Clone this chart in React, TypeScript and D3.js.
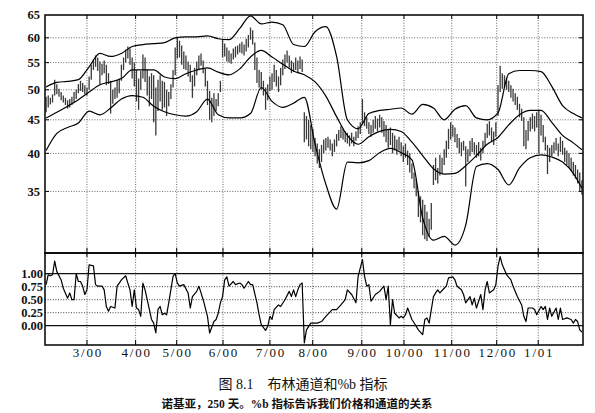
import React from 'react';
import * as d3 from 'd3';

// ---------- data ----------
const priceHigh = [
  48.8, 49.0, 48.6, 49.2, 51.8, 51.0, 50.2, 49.6, 49.0, 48.6,
  48.2, 48.4, 48.8, 49.6, 50.0, 51.0, 51.6, 51.2, 50.8, 50.4,
  52.4, 54.6, 55.6, 56.4, 56.0, 55.2, 54.8, 55.4, 54.6, 53.0,
  51.6, 50.0, 50.4, 51.8, 52.0, 54.6, 56.0, 57.6, 58.2, 57.8,
  56.0, 55.0, 53.6, 52.0, 53.4, 56.6, 56.0, 53.6, 52.4, 53.0,
  52.6, 50.4, 51.8, 52.6, 51.6, 51.4, 50.0, 49.6, 51.0, 53.6,
  58.0, 60.0, 59.4, 58.4, 57.2, 56.4, 55.2, 54.6, 52.6, 54.0,
  55.2, 56.4, 56.8, 55.4, 53.8, 51.6, 49.8, 48.6, 49.4, 48.4,
  49.4, 51.6, 59.6, 58.8, 58.0, 57.4, 56.8, 57.8, 58.2, 58.4,
  58.8, 59.2, 58.6, 59.8, 60.6, 62.2, 61.6, 59.0, 56.0, 53.6,
  53.2, 51.6, 50.4, 51.0, 52.4, 53.0, 54.6, 53.6, 52.4, 54.0,
  55.6, 56.6, 57.4, 56.4, 55.4, 55.0, 56.0, 55.4, 56.2, 55.6,
  46.2, 45.6, 45.0, 44.2, 43.6, 42.2, 41.4, 40.6, 41.2, 42.0,
  42.2, 42.4, 42.0, 41.4, 42.0, 42.8, 43.4, 44.0, 43.6, 43.2,
  43.0, 42.6, 43.0, 42.4, 43.2, 44.0, 44.6, 48.4, 46.2, 45.4,
  44.6, 44.2, 45.0, 45.6, 45.2, 45.8, 45.4, 44.8, 44.2, 43.4,
  43.8, 43.0, 42.6, 42.0, 42.4, 41.6, 41.0, 41.4, 40.4, 40.0,
  38.6, 37.4, 36.6, 35.0, 34.4, 34.0, 33.4, 32.6, 31.8, 33.6,
  38.4, 39.4, 38.0, 39.8, 39.4, 40.6, 41.8, 43.6, 44.6, 44.2,
  43.8, 42.8, 42.2, 41.6, 41.8, 41.0, 40.6, 41.8, 42.2, 41.6,
  41.2, 41.6, 40.8, 41.8, 43.0, 44.4, 44.8, 43.8, 43.2, 44.6,
  50.8, 54.4, 53.0, 52.6, 52.2, 51.6, 50.8, 50.2, 49.4, 48.8,
  47.6, 46.8, 45.4, 43.4, 44.8, 45.4, 46.0, 45.6, 46.2, 46.4,
  45.8, 44.2, 42.4, 41.2, 40.8, 41.2, 41.6, 42.2, 41.4, 42.4,
  41.8, 40.8, 40.4, 40.0, 39.4, 38.8, 38.4, 37.8, 37.4, 36.4,
];
const priceLow = [
  46.2, 47.0, 47.5, 47.8, 49.0, 49.2, 48.8, 48.2, 47.8, 47.4,
  46.8, 47.0, 47.4, 47.8, 48.4, 49.4, 49.8, 49.6, 49.2, 49.0,
  50.0, 51.8, 53.6, 54.2, 53.4, 51.0, 52.6, 53.0, 50.8, 51.0,
  46.0, 47.6, 48.4, 48.6, 49.4, 51.6, 53.6, 55.0, 55.8, 54.6,
  52.0, 50.6, 48.0, 46.6, 50.0, 52.0, 51.4, 49.0, 47.2, 48.4,
  44.6, 42.6, 46.4, 48.0, 46.6, 47.0, 45.6, 47.2, 48.4, 50.4,
  52.6, 55.8, 56.0, 54.6, 53.8, 53.6, 52.4, 51.4, 48.6, 50.6,
  52.6, 53.8, 54.4, 53.0, 50.6, 47.4, 45.0, 44.6, 45.6, 46.4,
  47.2, 49.6, 56.0, 56.2, 55.2, 55.0, 54.8, 55.6, 56.0, 56.6,
  57.0, 56.8, 56.4, 57.2, 58.0, 59.6, 58.6, 53.6, 51.2, 50.4,
  50.0, 49.0, 46.6, 48.2, 49.8, 50.0, 51.4, 50.6, 49.6, 50.8,
  52.6, 53.8, 55.0, 54.0, 53.0, 53.2, 53.6, 53.0, 53.8, 53.2,
  41.6, 42.0, 41.0, 40.6, 40.2, 39.6, 38.6, 38.0, 38.8, 40.0,
  40.4, 40.8, 40.4, 39.6, 40.2, 41.0, 41.8, 42.2, 42.0, 41.6,
  41.4, 41.0, 41.4, 41.0, 41.8, 42.2, 42.8, 44.2, 44.0, 43.6,
  42.8, 42.4, 43.0, 43.6, 43.2, 43.8, 43.0, 42.4, 41.6, 40.8,
  41.2, 40.0, 40.4, 39.8, 40.4, 39.6, 38.8, 39.4, 38.4, 37.4,
  36.6, 35.4, 34.4, 32.0, 31.4, 30.0, 29.6, 29.4, 29.8, 30.6,
  35.8, 36.4, 36.0, 37.0, 37.2, 38.4, 39.4, 40.6, 42.0, 42.4,
  41.6, 40.8, 40.0, 39.6, 40.4, 35.6, 38.8, 39.6, 40.2, 39.8,
  39.4, 39.6, 39.0, 40.0, 41.0, 42.2, 42.6, 41.6, 41.2, 42.4,
  45.6, 49.6, 50.2, 50.4, 50.0, 49.6, 48.6, 48.0, 47.4, 46.6,
  45.4, 44.8, 41.0, 40.6, 41.8, 43.2, 43.6, 43.2, 43.8, 40.0,
  42.6, 41.6, 40.4, 37.2, 38.8, 39.6, 40.0, 40.4, 39.6, 40.2,
  39.8, 38.8, 38.4, 38.0, 37.6, 37.0, 36.6, 36.0, 35.0, 34.6,
];

// Bollinger bands read every 5 trading days (plus last day)
const bandDay = [
  0, 5, 10, 15, 20, 25, 30, 35, 40, 45, 50, 55, 60, 65, 70, 75, 80, 85, 90, 95,
  100, 105, 110, 115, 120, 125, 130, 135, 140, 145, 150, 155, 160, 165, 170, 175,
  180, 185, 190, 195, 200, 205, 210, 215, 220, 225, 230, 235, 240, 245, 249,
];
const upperBand = [
  50.5, 51.3, 51.5, 51.8, 54.2, 56.8, 56.2, 56.8, 58.2, 58.6, 58.8, 59.0, 60.0, 60.2,
  60.2, 60.4, 59.8, 59.6, 62.0, 64.8, 63.0, 63.4, 62.8, 58.6, 58.2, 61.3, 62.4, 56.2,
  45.0, 43.6, 46.0, 46.5, 46.7, 46.9, 45.9, 47.5, 46.9, 45.0, 46.7, 47.3, 45.3, 45.0,
  46.1, 52.9, 53.5, 53.5, 53.3, 50.6, 47.3, 46.0, 45.3,
];
const middleBand = [
  45.3, 46.2, 47.2, 48.3, 49.6, 50.9, 51.4, 52.0, 53.6, 53.6, 53.6, 52.3, 52.0, 52.9,
  53.6, 54.0, 53.2, 52.7, 53.8, 56.1, 57.4, 56.1, 54.7, 53.4, 52.7, 51.4, 48.9, 45.5,
  42.6, 41.3, 42.4, 43.2, 43.5, 43.2, 41.6, 39.7, 37.9, 37.2, 37.3, 38.3, 39.7, 41.3,
  42.3, 44.2, 45.8, 46.5, 46.5, 44.6, 42.6, 41.5, 40.5,
];
const lowerBand = [
  40.4, 42.9, 43.8, 44.5, 46.4, 45.8, 46.9, 48.4, 49.0, 48.7, 47.2, 46.3, 45.8, 45.6,
  46.3, 48.4, 45.8, 45.3, 45.3, 46.0, 50.4, 48.0, 47.0, 47.7, 48.7, 41.3, 35.9, 32.9,
  38.8, 38.7, 39.0, 40.1, 40.7, 40.1, 39.1, 31.9, 29.5, 29.9, 29.0, 31.1, 38.2, 38.6,
  37.8, 35.8, 38.0, 39.4, 39.8, 39.5, 38.8, 37.3, 35.4,
];

// %b indicator
const pbDay = [
  0, 1, 2, 3, 4, 5, 7, 8, 10, 11, 12, 13, 14, 15, 16, 17, 18, 19, 20, 22,
  23, 24, 26, 27, 28, 29, 30, 32, 33, 34, 35, 37, 38, 39, 40, 41, 42, 43, 44, 45,
  46, 47, 49, 50, 51, 52, 53, 54, 55, 56, 57, 59, 60, 61, 62, 64, 66, 67, 68, 70,
  71, 72, 73, 75, 76, 78, 79, 80, 81, 82, 83, 84, 85, 87, 88, 90, 91, 92, 94, 95,
  96, 98, 99, 100, 102, 103, 104, 105, 106, 108, 109, 111, 113, 114, 115, 116, 117, 118, 119, 120,
  121, 123, 126, 128, 130, 133, 135, 137, 139, 140, 142, 144, 145, 147, 148, 149, 150, 151, 153, 155,
  157, 158, 159, 160, 161, 162, 164, 165, 166, 167, 168, 170, 172, 173, 175, 176, 177, 178, 180, 181,
  182, 183, 185, 186, 187, 189, 190, 191, 193, 194, 195, 197, 198, 199, 200, 202, 203, 204, 205, 206,
  208, 209, 210, 211, 212, 214, 216, 217, 219, 221, 222, 223, 224, 226, 227, 228, 230, 231, 232, 233,
  234, 235, 237, 238, 239, 240, 242, 244, 245, 246, 247, 248, 249,
];
const pbValue = [
  0.79, 0.98, 0.96, 0.98, 1.24, 1.04, 0.88, 0.72, 0.53, 0.63, 0.50, 0.50, 1.00, 0.85, 0.85, 0.76, 0.60, 0.69, 1.17, 1.15,
  0.79, 0.76, 0.76, 0.69, 0.37, 0.28, 0.37, 0.34, 0.76, 0.82, 0.88, 0.96, 0.82, 0.69, 0.37, 0.69, 0.34, 0.31, 0.18, 0.82,
  0.69, 0.50, 0.12, 0.05, -0.14, 0.31, 0.37, 0.21, 0.24, 0.21, 0.44, 0.95, 1.00, 0.82, 0.76, 0.79, 0.63, 0.34, 0.56, 0.66,
  0.76, 0.63, 0.50, 0.18, -0.14, 0.08, 0.12, 0.24, 0.44, 0.56, 0.88, 0.94, 0.76, 0.85, 0.79, 0.82, 0.79, 0.72, 0.85, 0.79,
  0.79, 0.44, 0.21, 0.02, -0.09, -0.01, 0.18, 0.12, 0.31, 0.40, 0.37, 0.50, 0.66, 0.56, 0.69, 0.56, 0.69, 0.79, 0.82, -0.33,
  -0.08, 0.05, 0.05, 0.08, 0.18, 0.31, 0.31, 0.40, 0.50, 0.69, 0.60, 0.44, 0.95, 1.27, 0.95, 0.76, 0.79, 0.47, 0.60, 0.66,
  0.76, 0.50, 0.76, 0.02, 0.50, 0.24, 0.15, 0.18, 0.15, 0.21, 0.34, 0.12, -0.01, -0.08, -0.17, 0.12, 0.15, 0.05, 0.56, 0.63,
  0.69, 0.63, 0.72, 0.76, 0.92, 0.94, 0.88, 0.76, 0.69, 0.60, 0.44, 0.56, 0.40, 0.53, 0.34, 0.60, 0.31, 0.69, 0.85, 0.63,
  0.69, 0.79, 1.14, 1.33, 1.17, 0.98, 0.88, 0.76, 0.56, 0.40, 0.18, 0.08, 0.34, 0.34, 0.31, 0.21, 0.37, 0.31, 0.37, 0.12,
  0.34, 0.18, 0.34, 0.12, 0.34, 0.12, 0.15, 0.12, 0.05, 0.12, 0.08, -0.08, -0.12,
];

const priceTicks = [65, 60, 55, 50, 45, 40, 35];
const pbTicks = [1.0, 0.75, 0.5, 0.25, 0.0];
const monthDay = [19, 41.6, 60.7, 82.2, 104, 123.9, 146.7, 166.3, 188.5, 209.4, 228.7];
const monthLabels = ['3/00', '4/00', '5/00', '6/00', '7/00', '8/00', '9/00', '10/00', '11/00', '12/00', '1/01'];
const captionTitle = '图 8.1    布林通道和%b 指标';
const captionNote = '诺基亚，250 天。%b 指标告诉我们价格和通道的关系';

// ---------- layout ----------
const W = 595;
const H = 413;
const L = 45;
const R = 583;
const T1 = 15;
const B1 = 253;
const B2 = 345;

const serif = "'Liberation Serif', 'Times New Roman', 'DejaVu Serif', serif";
const cjk = "'Liberation Serif', 'Noto Sans CJK SC', serif";

export default function App() {
  const x = d3.scaleLinear().domain([-0.5, 249.5]).range([L, R]);
  const y = d3.scaleLog().domain([28.2, 65]).range([B1, T1]);
  const yb = d3.scaleLinear().domain([-0.371, 1.398]).range([B2, B1]);

  const bandLine = (vals: number[]) =>
    d3
      .line<number>()
      .x((_, i) => x(bandDay[i]))
      .y((v) => y(v))
      .curve(d3.curveMonotoneX)(vals) || '';

  const pbPath =
    d3
      .line<number>()
      .x((_, i) => x(pbDay[i]))
      .y((v) => yb(v))(pbValue) || '';

  return (
    <svg
      width={W}
      height={H}
      viewBox={`0 0 ${W} ${H}`}
      style={{ position: 'absolute', left: 0, top: 0, background: '#fff' }}
    >
      <defs>
        <clipPath id="clipTop">
          <rect x={L} y={T1} width={R - L} height={B1 - T1} />
        </clipPath>
        <clipPath id="clipBot">
          <rect x={L} y={B1} width={R - L} height={B2 - B1} />
        </clipPath>
      </defs>
      <rect x={0} y={0} width={W} height={H} fill="#fff" />

      {/* upper grid */}
      {priceTicks.slice(1).map((t) => (
        <line key={'hg' + t} x1={L} x2={R} y1={y(t)} y2={y(t)} stroke="#444" strokeWidth={0.8} strokeDasharray="1,1.6" />
      ))}
      {monthDay.map((d, i) => (
        <line key={'vg' + i} x1={x(d)} x2={x(d)} y1={T1} y2={B2} stroke="#444" strokeWidth={0.8} strokeDasharray="1,1.6" />
      ))}
      {/* lower grid */}
      {pbTicks.map((t) => (
        <line
          key={'pg' + t}
          x1={L}
          x2={R}
          y1={yb(t)}
          y2={yb(t)}
          stroke="#111"
          strokeWidth={t === 1 || t === 0 ? 1.3 : 0.8}
          strokeDasharray={t === 1 || t === 0 ? undefined : '1,1.6'}
        />
      ))}

      {/* ticks */}
      {priceTicks.slice(1).map((t) => (
        <g key={'pt' + t}>
          <line x1={L} x2={L + 4} y1={y(t)} y2={y(t)} stroke="#000" strokeWidth={1} />
          <line x1={R - 4} x2={R} y1={y(t)} y2={y(t)} stroke="#000" strokeWidth={1} />
        </g>
      ))}
      {monthDay.map((d, i) => (
        <g key={'mt' + i}>
          <line x1={x(d)} x2={x(d)} y1={T1} y2={T1 + 4} stroke="#000" strokeWidth={1} />
          <line x1={x(d)} x2={x(d)} y1={B1 - 5} y2={B1 + 4} stroke="#000" strokeWidth={1} />
          <line x1={x(d)} x2={x(d)} y1={B2 - 5} y2={B2} stroke="#000" strokeWidth={1} />
        </g>
      ))}

      {/* price bars */}
      <g clipPath="url(#clipTop)">
        {priceHigh.map((h, i) => (
          <line key={'b' + i} x1={x(i)} x2={x(i)} y1={y(h)} y2={y(priceLow[i])} stroke="#3a3a3a" strokeWidth={1.3} />
        ))}
        <path d={bandLine(upperBand)} fill="none" stroke="#000" strokeWidth={1.2} />
        <path d={bandLine(middleBand)} fill="none" stroke="#000" strokeWidth={1.2} />
        <path d={bandLine(lowerBand)} fill="none" stroke="#000" strokeWidth={1.2} />
      </g>

      {/* %b */}
      <g clipPath="url(#clipBot)">
        <path d={pbPath} fill="none" stroke="#000" strokeWidth={1.2} strokeLinejoin="round" />
      </g>

      {/* frames */}
      <rect x={L} y={T1} width={R - L} height={B1 - T1} fill="none" stroke="#000" strokeWidth={1.5} />
      <rect x={L} y={B1} width={R - L} height={B2 - B1} fill="none" stroke="#000" strokeWidth={1.5} />

      {/* labels */}
      {priceTicks.map((t) => (
        <text key={'pl' + t} x={L - 5} y={y(t)} dy="0.35em" textAnchor="end" fontFamily={serif} fontWeight="bold" fontSize={12.5} fill="#111">
          {t}
        </text>
      ))}
      {pbTicks.map((t) => (
        <text key={'bl' + t} x={L - 2} y={yb(t)} dy="0.35em" textAnchor="end" fontFamily={serif} fontWeight="bold" fontSize={12.5} fill="#111">
          {t.toFixed(2)}
        </text>
      ))}
      {monthDay.map((d, i) => (
        <text key={'ml' + i} x={x(d) + 1} y={357} textAnchor="middle" fontFamily={serif} fontSize={13} letterSpacing={1.8} fill="#111">
          {monthLabels[i]}
        </text>
      ))}

      <text x={303} y={389} textAnchor="middle" fontFamily={cjk} fontSize={14} fill="#111" style={{ whiteSpace: 'pre' }}>
        {captionTitle}
      </text>
      <text x={297} y={408} textAnchor="middle" fontFamily={cjk} fontWeight="bold" fontSize={11.5} fill="#111">
        {captionNote}
      </text>
    </svg>
  );
}
